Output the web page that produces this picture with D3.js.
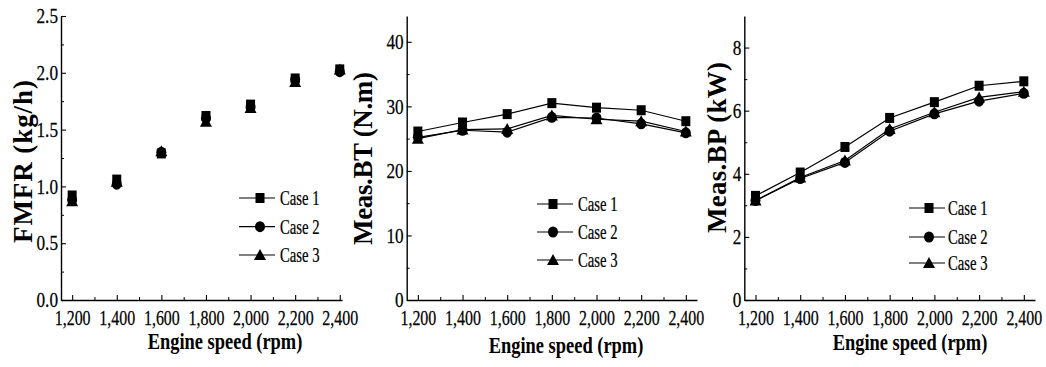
<!DOCTYPE html>
<html><head><meta charset="utf-8">
<script src="https://cdn.jsdelivr.net/npm/d3@7"></script>
<style>
body{margin:0;background:#fff;}
svg{display:block;}
text{font-family:"Liberation Serif","Times New Roman",serif;fill:#000;}
</style></head>
<body><svg id="c" width="1046" height="367"></svg>
<script>
// ---- data ----
const speeds = [1200, 1400, 1600, 1800, 2000, 2200, 2400];
const cases = ["Case 1", "Case 2", "Case 3"];
const fmfrCase1 = [0.92, 1.06, 1.29, 1.62, 1.72, 1.95, 2.03];
const fmfrCase2 = [0.88, 1.02, 1.30, 1.60, 1.70, 1.94, 2.01];
const fmfrCase3 = [0.87, 1.04, 1.31, 1.57, 1.69, 1.92, 2.03];
const btCase1 = [26.1, 27.5, 28.8, 30.5, 29.8, 29.4, 27.7];
const btCase2 = [25.2, 26.3, 26.0, 28.3, 28.2, 27.3, 25.9];
const btCase3 = [25.0, 26.4, 26.5, 28.6, 28.0, 27.7, 26.1];
const bpCase1 = [3.30, 4.04, 4.85, 5.77, 6.27, 6.79, 6.93];
const bpCase2 = [3.15, 3.85, 4.36, 5.35, 5.90, 6.30, 6.55];
const bpCase3 = [3.15, 3.88, 4.42, 5.42, 5.95, 6.42, 6.60];
const xTicks = [1200, 1400, 1600, 1800, 2000, 2200, 2400];
const xMinorTicks = [1300, 1500, 1700, 1900, 2100, 2300];
const fmfrTicks = [0, 0.5, 1.0, 1.5, 2.0, 2.5];
const fmfrMinor = [0.25, 0.75, 1.25, 1.75, 2.25];
const btTicks = [0, 10, 20, 30, 40];
const btMinor = [5, 15, 25, 35];
const bpTicks = [0, 2, 4, 6, 8];
const bpMinor = [1, 3, 5, 7];
const xTitle = "Engine speed (rpm)";

// ---- layout ----
const svg = d3.select("#c");
const panels = [
  {series:[fmfrCase1,fmfrCase2,fmfrCase3], lines:false, xd:[1150,2410], xr:[61,342], yd:[0,2.5],
   yt:fmfrTicks, ym:fmfrMinor, yfmt:d3.format(".1f"), ylabel:"FMFR (kg/h)", ylx:32, yly:161.5, yll:163,
   leg:{mx:260, lx1:239, lx2:275, tx:280, ys:[198,226.7,255]}, tx:225, ty:349},
  {series:[btCase1,btCase2,btCase3], lines:true, xd:[1150,2450], xr:[406.7,697], yd:[0,44],
   yt:btTicks, ym:btMinor, yfmt:d3.format("d"), ylabel:"Meas.BT (N.m)", ylx:372, yly:158.5, yll:173,
   leg:{mx:553, lx1:537, lx2:573, tx:578, ys:[204,232,260]}, tx:566, ty:353},
  {series:[bpCase1,bpCase2,bpCase3], lines:true, xd:[1150,2450], xr:[744.3,1035], yd:[0,9],
   yt:bpTicks, ym:bpMinor, yfmt:d3.format("d"), ylabel:"Meas.BP (kW)", ylx:726, yly:147.5, yll:171,
   leg:{mx:929, lx1:909, lx2:945, tx:948, ys:[208,237,263]}, tx:910, ty:350}
];
const yBottom = 300, yTop = 16;

function marker(g, k, cx, cy) {
  if (k === 0) {
    g.append("rect").attr("x", cx-4.5).attr("y", cy-5).attr("width", 9).attr("height", 10).attr("fill", "#000");
  } else if (k === 1) {
    g.append("ellipse").attr("cx", cx).attr("cy", cy).attr("rx", 5).attr("ry", 5.5).attr("fill", "#000");
  } else {
    g.append("path").attr("d", `M${cx},${cy-6}L${cx+6},${cy+5}L${cx-6},${cy+5}Z`).attr("fill", "#000");
  }
}

panels.forEach(p => {
  const x = d3.scaleLinear().domain(p.xd).range(p.xr);
  const y = d3.scaleLinear().domain(p.yd).range([yBottom, yTop]);
  const g = svg.append("g");

  // minor ticks
  g.append("g").attr("transform", `translate(0,${yBottom})`)
    .call(d3.axisBottom(x).tickValues(xMinorTicks).tickSizeInner(-3).tickSizeOuter(0).tickFormat(""))
    .call(a => a.select(".domain").remove());
  g.append("g").attr("transform", `translate(${p.xr[0]},0)`)
    .call(d3.axisLeft(y).tickValues(p.ym).tickSizeInner(-3).tickSizeOuter(0).tickFormat(""))
    .call(a => a.select(".domain").remove());

  // major axes
  const xa = g.append("g").attr("transform", `translate(0,${yBottom})`)
    .call(d3.axisBottom(x).tickValues(xTicks).tickSizeInner(-5).tickSizeOuter(0).tickPadding(10).tickFormat(d3.format(",")));
  const ya = g.append("g").attr("transform", `translate(${p.xr[0]},0)`)
    .call(d3.axisLeft(y).tickValues(p.yt).tickSizeInner(-5).tickSizeOuter(0).tickPadding(3).tickFormat(p.yfmt));
  [xa, ya].forEach(a => {
    a.attr("font-family", null).attr("font-size", null);
    a.select(".domain").attr("stroke-width", 1.4);
    a.selectAll(".tick line").attr("stroke-width", 1.1);
    a.selectAll(".tick text").style("font-size", "21px")
      .attr("stroke", "#000").attr("stroke-width", 0.25);
  });
  xa.selectAll(".tick text").attr("transform", "scale(0.76,1)");
  ya.selectAll(".tick text").attr("transform", "scale(0.82,1)").attr("x", -3 / 0.82);

  // lines
  if (p.lines) {
    const line = d3.line().x((d, i) => x(speeds[i])).y(d => y(d));
    p.series.forEach(s => {
      g.append("path").datum(s).attr("d", line).attr("fill", "none").attr("stroke", "#000").attr("stroke-width", 1.2);
    });
  }
  // markers
  p.series.forEach((s, k) => {
    s.forEach((v, i) => marker(g, k, x(speeds[i]), y(v)));
  });

  // legend
  cases.forEach((c, k) => {
    const ly = p.leg.ys[k];
    g.append("line").attr("x1", p.leg.lx1).attr("x2", p.leg.lx2).attr("y1", ly).attr("y2", ly)
      .attr("stroke", "#000").attr("stroke-width", 1.2);
    marker(g, k, p.leg.mx, ly);
    g.append("text").attr("transform", `translate(${p.leg.tx},${ly}) scale(0.7,1)`)
      .attr("dy", "0.35em").style("font-size", "21px")
      .attr("stroke", "#000").attr("stroke-width", 0.25).text(c);
  });

  // axis titles
  g.append("text").attr("transform", `translate(${p.tx},${p.ty}) scale(0.82,1)`)
    .attr("text-anchor", "middle").style("font-size", "22.5px").style("font-weight", "bold").text(xTitle);
  g.append("text").attr("transform", `translate(${p.ylx},${p.yly}) rotate(-90)`)
    .attr("text-anchor", "middle").attr("textLength", p.yll).attr("lengthAdjust", "spacing")
    .style("font-size", "27px").style("font-weight", "bold").text(p.ylabel);
});
</script></body></html>
